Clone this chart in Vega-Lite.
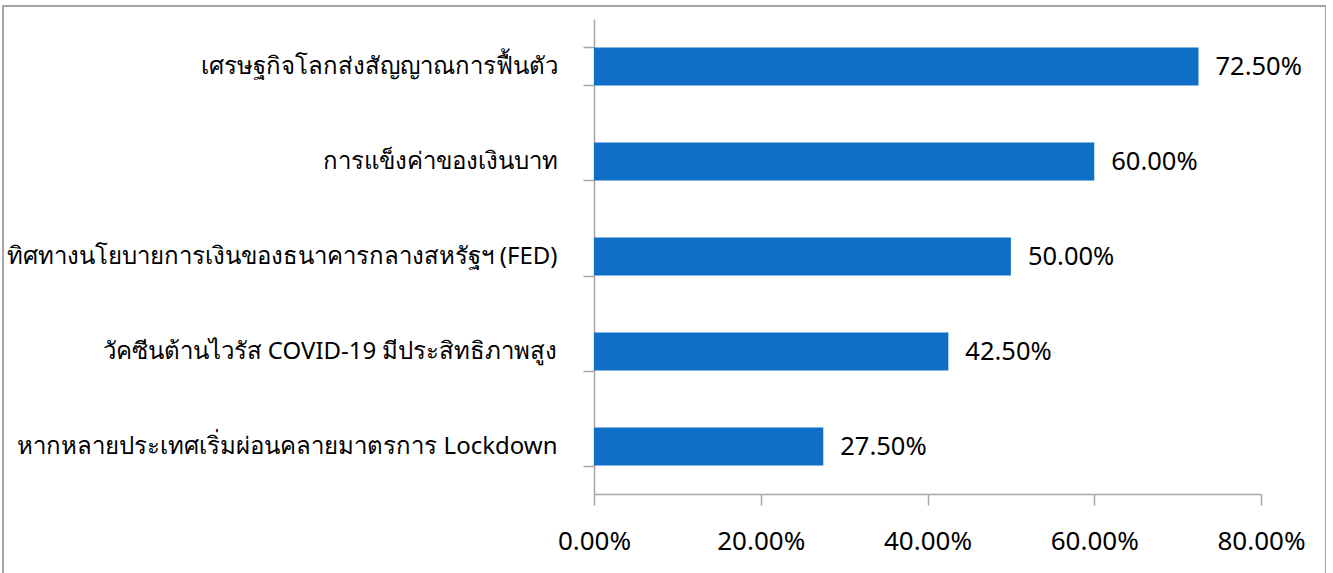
{
  "$schema": "https://vega.github.io/schema/vega-lite/v6.json",
  "width": 1323,
  "height": 570,
  "autosize": {"type": "none"},
  "padding": {"left": 3, "top": 6, "right": 0, "bottom": 0},
  "background": "white",
  "config": {
    "view": {"stroke": "#a6a6a6", "strokeWidth": 2},
    "font": "Noto Sans"
  },
  "data": {
    "values": [
      {"factor": "เศรษฐกิจโลกส่งสัญญาณการฟื้นตัว", "share": 0.725},
      {"factor": "การแข็งค่าของเงินบาท", "share": 0.60},
      {"factor": "ทิศทางนโยบายการเงินของธนาคารกลางสหรัฐฯ (FED)", "share": 0.50},
      {"factor": "วัคซีนต้านไวรัส COVID-19 มีประสิทธิภาพสูง", "share": 0.425},
      {"factor": "หากหลายประเทศเริ่มผ่อนคลายมาตรการ Lockdown", "share": 0.275}
    ]
  },
  "encoding": {
    "y": {
      "field": "factor",
      "type": "nominal",
      "sort": null,
      "scale": {"range": [13, 488], "paddingInner": 0.6, "paddingOuter": 0.3},
      "axis": {
        "title": null,
        "orient": "left",
        "offset": -591,
        "tickBand": "extent",
        "domainColor": "#a6a6a6",
        "domainWidth": 1.5,
        "tickColor": "#a6a6a6",
        "tickWidth": 1.5,
        "tickSize": 11,
        "labelPadding": 26,
        "labelFontSize": 24,
        "labelFont": "Noto Sans",
        "labelColor": "#000000",
        "labelLimit": 700
      }
    },
    "x": {
      "field": "share",
      "type": "quantitative",
      "scale": {"domain": [0, 0.8], "range": [591, 1258], "nice": false},
      "axis": {
        "title": null,
        "orient": "bottom",
        "offset": -82,
        "values": [0, 0.2, 0.4, 0.6, 0.8],
        "format": ".2%",
        "grid": false,
        "labelFlush": false,
        "domainColor": "#a6a6a6",
        "domainWidth": 1.5,
        "tickColor": "#a6a6a6",
        "tickWidth": 1.5,
        "tickSize": 11,
        "labelPadding": 23,
        "labelFontSize": 26,
        "labelFont": "Noto Sans",
        "labelColor": "#000000"
      }
    }
  },
  "layer": [
    {"mark": {"type": "bar", "color": "#0f6fc6"}},
    {
      "mark": {"type": "text", "align": "left", "baseline": "middle", "dx": 17, "fontSize": 25.5, "font": "Noto Sans", "color": "#000000"},
      "encoding": {"text": {"field": "share", "type": "quantitative", "format": ".2%"}}
    }
  ]
}
